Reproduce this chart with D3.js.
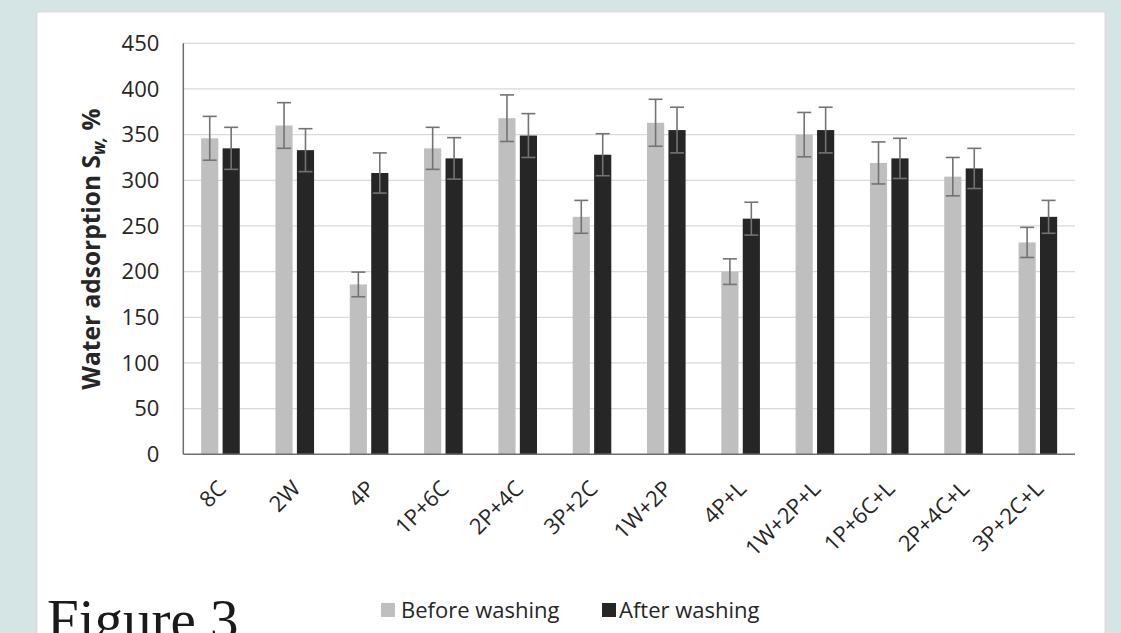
<!DOCTYPE html>
<html>
<head>
<meta charset="utf-8">
<script src="https://cdn.jsdelivr.net/npm/d3@7"></script>
<style>
  body { margin: 0; background: #d5e4e4; }
  svg { display: block; }
</style>
</head>
<body>
<div class="divCard"></div>
<script>
// values
var categories = ["8C", "2W", "4P", "1P+6C", "2P+4C", "3P+2C", "1W+2P", "4P+L", "1W+2P+L", "1P+6C+L", "2P+4C+L", "3P+2C+L"];
var seriesNames = ["Before washing", "After washing"];
var beforeWashing = [346, 360, 186, 335, 368, 260, 363, 200, 350, 319, 304, 232];
var beforeError = [24, 25, 13.5, 23, 25.5, 18, 25.7, 14, 24.3, 23, 21, 16.5];
var afterWashing = [335, 333, 308, 324, 349, 328, 355, 258, 355, 324, 313, 260];
var afterError = [23, 23.5, 22, 22.7, 24, 23, 25, 18, 25, 22, 22, 18];
var yTicks = [0, 50, 100, 150, 200, 250, 300, 350, 400, 450];

var W = 1121, H = 633;
var colors = ["#bfbfbf", "#262626"];
var font = "'Open Sans', sans-serif";

var svg = d3.select(".divCard").append("svg")
  .attr("width", W)
  .attr("height", H);

svg.append("rect")
  .attr("width", W).attr("height", H)
  .attr("fill", "#d5e4e4");

// white slide panel
svg.append("rect")
  .attr("x", 36.5).attr("y", 11.5)
  .attr("width", 1069).attr("height", 640)
  .attr("fill", "#ffffff")
  .attr("stroke", "#dcdcdc")
  .attr("stroke-width", 2);

var plot = { left: 183.3, right: 1075, top: 43.3, bottom: 454.3 };

var yScale = d3.scaleLinear().domain([0, 450]).range([plot.bottom, plot.top]);
var xScale = d3.scaleBand().domain(categories).range([plot.left, plot.right]);
var xSub = d3.scaleBand().domain(seriesNames).range([-19.3, 19.3]).paddingInner(0.2);

// gridlines
svg.append("g").selectAll("line")
  .data(yTicks.slice(1))
  .enter()
  .append("line")
  .attr("x1", plot.left).attr("x2", plot.right)
  .attr("y1", function(d) { return yScale(d); })
  .attr("y2", function(d) { return yScale(d); })
  .attr("stroke", "#d9d9d9")
  .attr("stroke-width", 1.3);

// y axis labels
var yAxis = svg.append("g")
  .attr("transform", "translate(" + plot.left + ",0)")
  .call(d3.axisLeft(yScale).tickValues(yTicks).tickSize(0).tickPadding(24));
yAxis.select(".domain").remove();
yAxis.selectAll("text")
  .attr("font-family", font)
  .attr("font-size", "22px")
  .attr("fill", "#262626");

var series = [
  { name: seriesNames[0], values: beforeWashing, errors: beforeError, color: colors[0] },
  { name: seriesNames[1], values: afterWashing, errors: afterError, color: colors[1] }
];

var groups = svg.selectAll(".series")
  .data(series)
  .enter()
  .append("g")
  .attr("class", "series");

groups.selectAll("rect")
  .data(function(s) {
    return s.values.map(function(v, i) { return { cat: categories[i], v: v, name: s.name }; });
  })
  .enter()
  .append("rect")
  .attr("x", function(d) { return xScale(d.cat) + xScale.bandwidth() / 2 + xSub(d.name); })
  .attr("y", function(d) { return yScale(d.v); })
  .attr("width", xSub.bandwidth())
  .attr("height", function(d) { return yScale(0) - yScale(d.v); })
  .attr("fill", function(d, i, n) { return d3.select(n[i].parentNode).datum().color; });

// error bars
var errData = [];
series.forEach(function(s) {
  s.values.forEach(function(v, i) {
    errData.push({
      cx: xScale(categories[i]) + xScale.bandwidth() / 2 + xSub(s.name) + xSub.bandwidth() / 2,
      lo: v - s.errors[i],
      hi: v + s.errors[i]
    });
  });
});

var err = svg.append("g")
  .attr("stroke", "#737373")
  .attr("stroke-width", 1.6)
  .selectAll("g")
  .data(errData)
  .enter()
  .append("g");

err.append("line")
  .attr("x1", function(d) { return d.cx; })
  .attr("x2", function(d) { return d.cx; })
  .attr("y1", function(d) { return yScale(d.lo); })
  .attr("y2", function(d) { return yScale(d.hi); });
err.append("line")
  .attr("x1", function(d) { return d.cx - 7; })
  .attr("x2", function(d) { return d.cx + 7; })
  .attr("y1", function(d) { return yScale(d.hi); })
  .attr("y2", function(d) { return yScale(d.hi); });
err.append("line")
  .attr("x1", function(d) { return d.cx - 7; })
  .attr("x2", function(d) { return d.cx + 7; })
  .attr("y1", function(d) { return yScale(d.lo); })
  .attr("y2", function(d) { return yScale(d.lo); });

// axis lines
svg.append("line")
  .attr("x1", plot.left).attr("x2", plot.left)
  .attr("y1", plot.top).attr("y2", plot.bottom)
  .attr("stroke", "#6e6e6e").attr("stroke-width", 1.5);
svg.append("line")
  .attr("x1", plot.left).attr("x2", plot.right)
  .attr("y1", plot.bottom).attr("y2", plot.bottom)
  .attr("stroke", "#6e6e6e").attr("stroke-width", 1.5);

// x labels, rotated
svg.append("g").selectAll("text")
  .data(categories)
  .enter()
  .append("text")
  .attr("transform", function(d) {
    return "translate(" + (xScale(d) + xScale.bandwidth() / 2 + 7) + "," + 490 + ") rotate(-45)";
  })
  .attr("text-anchor", "end")
  .attr("font-family", font)
  .attr("font-size", "22px")
  .attr("fill", "#262626")
  .text(function(d) { return d; });

// y title
var yTitle = svg.append("text")
  .attr("transform", "translate(100,249) rotate(-90)")
  .attr("text-anchor", "middle")
  .attr("font-family", font)
  .attr("font-weight", "bold")
  .attr("font-size", "24.5px")
  .attr("fill", "#262626");
yTitle.append("tspan").text("Water adsorption S");
yTitle.append("tspan")
  .attr("font-size", "17px")
  .attr("font-style", "italic")
  .attr("dy", 5)
  .text("w,");
yTitle.append("tspan")
  .attr("dy", -5)
  .text(" %");

// legend
var legendX = [381, 602];
var legend = svg.append("g").selectAll("g")
  .data(series)
  .enter()
  .append("g")
  .attr("transform", function(d, i) { return "translate(" + legendX[i] + ",603)"; });
legend.append("rect")
  .attr("width", 14).attr("height", 14)
  .attr("fill", function(d) { return d.color; });
legend.append("text")
  .attr("x", function(d, i) { return i == 0 ? 20 : 17; })
  .attr("y", 15)
  .attr("font-family", font)
  .attr("font-size", "22px")
  .attr("fill", "#262626")
  .text(function(d) { return d.name; });

// caption, cut by the bottom edge as in the slide
svg.append("text")
  .attr("x", 47)
  .attr("y", 639)
  .attr("font-family", "'Liberation Serif', 'Times New Roman', serif")
  .attr("font-size", "57px")
  .attr("fill", "#1a1a1a")
  .text("Figure 3");
</script>
</body>
</html>
